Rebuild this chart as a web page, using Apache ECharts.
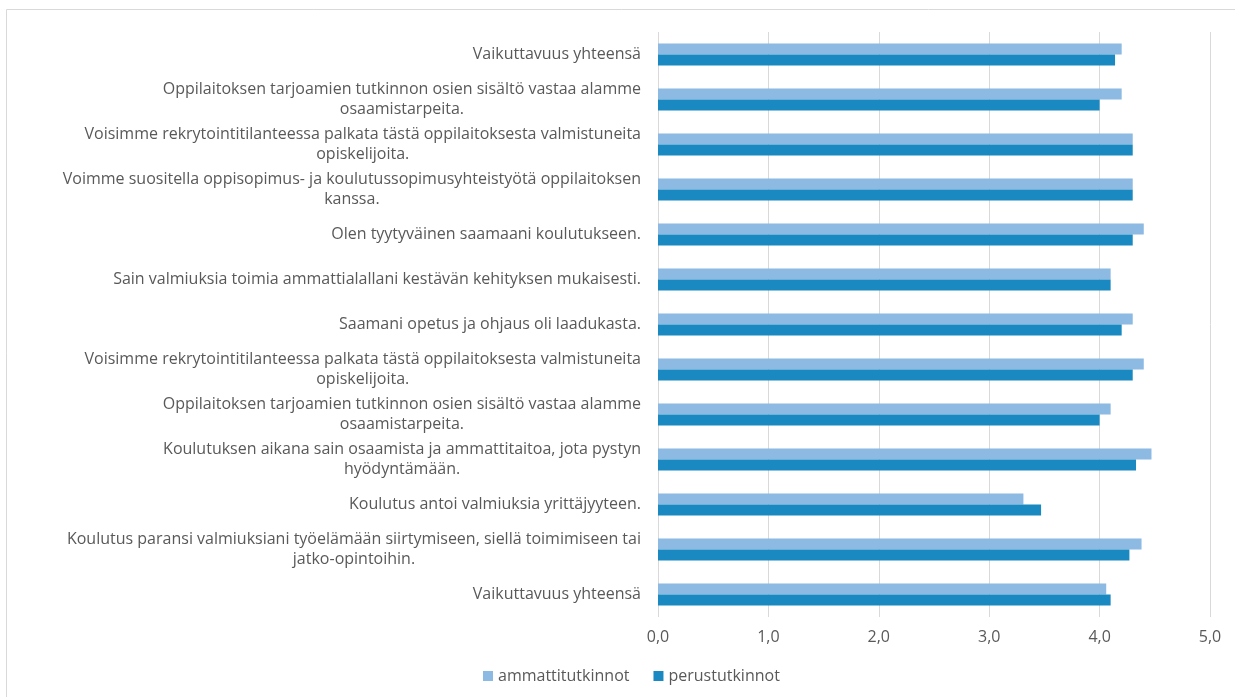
<!DOCTYPE html>
<html>
<head>
<meta charset="utf-8">
<script src="https://cdn.jsdelivr.net/npm/echarts@6/dist/echarts.min.js"></script>
<style>
    html, body { margin: 0; padding: 0; background: #fff; }
    #main { width: 1235px; height: 697px; }
</style>
</head>
<body>
<div id="main"></div>
<script>
// kategoriat ylhäältä alas
var categories = [
    'Vaikuttavuus yhteensä',
    'Oppilaitoksen tarjoamien tutkinnon osien sisältö vastaa alamme\nosaamistarpeita.',
    'Voisimme rekrytointitilanteessa palkata tästä oppilaitoksesta valmistuneita\nopiskelijoita.',
    'Voimme suositella oppisopimus- ja koulutussopimusyhteistyötä oppilaitoksen\nkanssa.',
    'Olen tyytyväinen saamaani koulutukseen.',
    'Sain valmiuksia toimia ammattialallani kestävän kehityksen mukaisesti.',
    'Saamani opetus ja ohjaus oli laadukasta.',
    'Voisimme rekrytointitilanteessa palkata tästä oppilaitoksesta valmistuneita\nopiskelijoita.',
    'Oppilaitoksen tarjoamien tutkinnon osien sisältö vastaa alamme\nosaamistarpeita.',
    'Koulutuksen aikana sain osaamista ja ammattitaitoa, jota pystyn\nhyödyntämään.',
    'Koulutus antoi valmiuksia yrittäjyyteen.',
    'Koulutus paransi valmiuksiani työelämään siirtymiseen, siellä toimimiseen tai\njatko-opintoihin.',
    'Vaikuttavuus yhteensä'
]
var ammattitutkinnot = [4.2, 4.2, 4.3, 4.3, 4.4, 4.1, 4.3, 4.4, 4.1, 4.47, 3.31, 4.38, 4.06]
var perustutkinnot = [4.14, 4.0, 4.3, 4.3, 4.3, 4.1, 4.2, 4.3, 4.0, 4.33, 3.47, 4.27, 4.1]
var xTicks = [0, 1, 2, 3, 4, 5]

var textColor = '#595959'
var font = 'Open Sans'

var chart = echarts.init(document.getElementById('main'))
chart.setOption({
    animation: false,
    graphic: [{
        type: 'rect',
        shape: { x: 6.5, y: 9.5, width: 1400, height: 900 },
        style: { fill: 'none', stroke: '#d9d9d9', lineWidth: 1 }
    }],
    legend: {
        left: 478,
        top: 663,
        icon: 'rect',
        itemWidth: 10,
        itemHeight: 10,
        itemGap: 24,
        textStyle: { color: textColor, fontSize: 16, fontFamily: font },
        data: ['ammattitutkinnot', 'perustutkinnot']
    },
    grid: {
        left: 658,
        right: 25,
        top: 32,
        bottom: 80
    },
    xAxis: {
        type: 'value',
        min: xTicks[0],
        max: xTicks[xTicks.length - 1],
        interval: 1,
        axisLine: { show: false },
        axisTick: { show: false },
        splitLine: { lineStyle: { color: '#d9d9d9', width: 1 } },
        axisLabel: {
            color: textColor,
            fontSize: 16,
            fontFamily: font,
            margin: 12,
            formatter: function (v) { return v.toFixed(1).replace('.', ',') }
        }
    },
    yAxis: {
        type: 'category',
        inverse: true,
        data: categories,
        axisLine: { show: false },
        axisTick: { show: false },
        axisLabel: {
            margin: 17,
            color: textColor,
            fontSize: 16,
            fontFamily: font,
            lineHeight: 20,
            formatter: function (v) {
                // rivit keskitetään lohkon sisällä kuten Excelissä
                return v.split('\n').map(function (s) { return '{c|' + s + '}' }).join('\n')
            },
            rich: {
                c: { align: 'center', color: textColor, fontSize: 16, fontFamily: font, lineHeight: 20 }
            }
        }
    },
    series: [
        {
            name: 'ammattitutkinnot',
            type: 'bar',
            data: ammattitutkinnot,
            barWidth: 11,
            barGap: '0%',
            itemStyle: { color: '#8cbae2' }
        },
        {
            name: 'perustutkinnot',
            type: 'bar',
            data: perustutkinnot,
            barWidth: 11,
            barGap: '0%',
            itemStyle: { color: '#1a89c1' }
        }
    ]
})
</script>
</body>
</html>
